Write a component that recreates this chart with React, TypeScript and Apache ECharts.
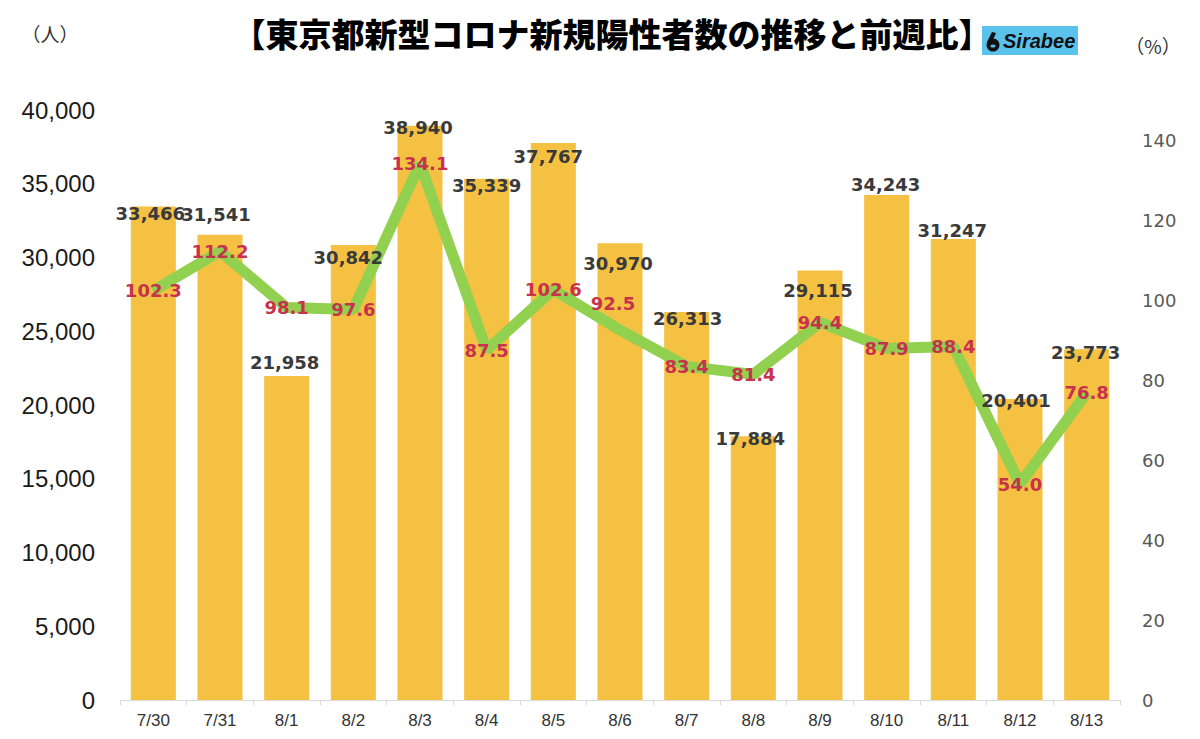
import React, { useEffect, useRef } from "react";
import * as echarts from "echarts";

const categories = ["7/30", "7/31", "8/1", "8/2", "8/3", "8/4", "8/5", "8/6", "8/7", "8/8", "8/9", "8/10", "8/11", "8/12", "8/13"];
const newCases = [33466, 31541, 21958, 30842, 38940, 35339, 37767, 30970, 26313, 17884, 29115, 34243, 31247, 20401, 23773];
const weekOverWeek = [102.3, 112.2, 98.1, 97.6, 134.1, 87.5, 102.6, 92.5, 83.4, 81.4, 94.4, 87.9, 88.4, 54.0, 76.8];

const titleText = "【東京都新型コロナ新規陽性者数の推移と前週比】";
const leftUnit = "（人）";
const rightUnit = "（%）";
const logoText = "Sirabee";

const barLabelNudge = [[-3, 7], [-4, -20], [-2, -14], [-5, 12], [-2, 2], [0, 7], [-5, 14], [-2, 20], [1, 7], [-3, 2], [-2, 20], [-1, -10], [-1, -9], [-4, 1], [-1, 3]];
const lineLabelNudge = [[0, 0], [0, 0], [0, 0], [0, 0], [0, 0], [0, 0], [0, 0], [-7, -27], [0, 0], [0, 0], [0, 0], [0, 0], [0, 0], [0, 0], [0, 0]];

export default function App() {
  const ref = useRef<HTMLDivElement>(null);
  useEffect(() => {
    document.body.style.margin = "0";
    const chart = echarts.init(ref.current!, null, { renderer: "svg" });
    const barLabelStyle = {
      show: true,
      position: ["50%", 0],
      align: "center",
      verticalAlign: "middle",
      color: "#3a3a3a",
      fontSize: 18,
      fontWeight: "bold",
      fontFamily: "DejaVu Sans",
      formatter: (p: any) => Number(p.value).toLocaleString("en-US"),
    };
    const option = {
      animation: false,
      backgroundColor: "#ffffff",
      grid: { left: 120, right: 80, top: 110, bottom: 39, containLabel: false },
      xAxis: {
        type: "category",
        data: categories,
        axisLine: { show: true, lineStyle: { color: "#d9d9d9", width: 1 } },
        axisTick: { show: true, length: 5, lineStyle: { color: "#d9d9d9" } },
        axisLabel: { color: "#333333", fontSize: 17, fontFamily: "Liberation Sans", margin: 12 },
      },
      yAxis: [
        {
          type: "value",
          min: 0,
          max: 40000,
          interval: 5000,
          splitLine: { show: false },
          axisLine: { show: false },
          axisTick: { show: false },
          axisLabel: {
            color: "#1a1a1a",
            fontSize: 24,
            fontFamily: "Liberation Sans",
            margin: 25,
            formatter: (v: number) => v.toLocaleString("en-US"),
          },
        },
        {
          type: "value",
          min: 0,
          max: 147.5,
          interval: 20,
          splitLine: { show: false },
          axisLine: { show: false },
          axisTick: { show: false },
          axisLabel: {
            color: "#595959",
            fontSize: 18,
            fontFamily: "DejaVu Sans",
            margin: 22,
            showMaxLabel: false,
          },
        },
      ],
      series: [
        {
          type: "bar",
          yAxisIndex: 0,
          barWidth: 45,
          itemStyle: { color: "#F5C143" },
          data: newCases,
          label: { show: false },
          z: 2,
        },
        {
          type: "line",
          yAxisIndex: 1,
          symbol: "circle",
          symbolSize: 2,
          showSymbol: true,
          lineStyle: { color: "#92D050", width: 11 },
          itemStyle: { color: "#92D050" },
          data: weekOverWeek.map((v, i) => ({
            value: v,
            label: { offset: lineLabelNudge[i] },
          })),
          label: {
            show: true,
            position: "inside",
            align: "center",
            verticalAlign: "middle",
            color: "#C7324C",
            fontSize: 18,
            fontWeight: "bold",
            fontFamily: "DejaVu Sans",
            formatter: (p: any) => Number(p.value).toFixed(1),
          },
          z: 5,
        },
        {
          type: "bar",
          yAxisIndex: 0,
          barWidth: 45,
          barGap: "-100%",
          itemStyle: { color: "rgba(0,0,0,0)" },
          silent: true,
          data: newCases.map((v, i) => ({
            value: v,
            label: { offset: barLabelNudge[i] },
          })),
          label: barLabelStyle,
          z: 8,
        },
      ],
      graphic: [
        {
          type: "text",
          x: 612,
          y: 33,
          style: {
            text: titleText,
            fill: "#000000",
            font: "900 33px 'Noto Sans CJK JP'",
            align: "center",
            verticalAlign: "middle",
          },
        },
        {
          type: "text",
          x: 50,
          y: 33,
          style: {
            text: leftUnit,
            fill: "#333333",
            font: "19px 'Noto Sans CJK JP'",
            align: "center",
            verticalAlign: "middle",
          },
        },
        {
          type: "text",
          x: 1153,
          y: 45,
          style: {
            text: rightUnit,
            fill: "#333333",
            font: "19px 'Noto Sans CJK JP'",
            align: "center",
            verticalAlign: "middle",
          },
        },
        {
          type: "group",
          children: [
            { type: "rect", shape: { x: 982, y: 26, width: 96, height: 29 }, style: { fill: "#5BC2EC" } },
            { type: "circle", shape: { cx: 993, cy: 45, r: 6.5 }, style: { fill: "#111111" } },
            { type: "polygon", shape: { points: [[987, 42], [992, 32], [996, 33], [992, 42]] }, style: { fill: "#111111" } },
            { type: "ellipse", shape: { cx: 993, cy: 46, rx: 2.6, ry: 1.6 }, style: { fill: "#5BC2EC" } },
            {
              type: "text",
              x: 1003,
              y: 41,
              style: {
                text: logoText,
                fill: "#111111",
                font: "italic bold 20px 'Liberation Sans'",
                verticalAlign: "middle",
              },
            },
          ],
        },
      ],
    };
    chart.setOption(option as any);
    return () => chart.dispose();
  }, []);
  return <div ref={ref} style={{ width: 1200, height: 739 }} />;
}
